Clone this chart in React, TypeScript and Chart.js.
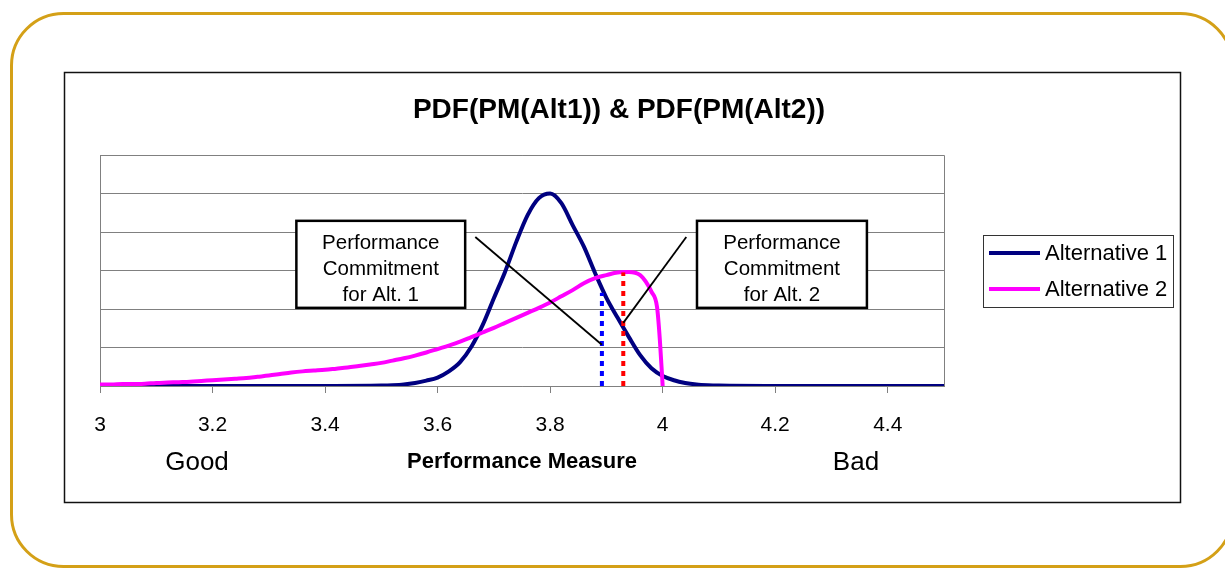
import React, { useEffect, useRef } from "react";
import { Chart, registerables } from "chart.js";

Chart.register(...registerables);

const FONT = '"Liberation Sans", Arial, sans-serif';

const chartTitle = "PDF(PM(Alt1)) & PDF(PM(Alt2))";
const xAxisTitle = "Performance Measure";
const goodLabel = "Good";
const badLabel = "Bad";
const seriesNames = ["Alternative 1", "Alternative 2"];
const calloutTexts = [
  ["Performance", "Commitment", "for Alt. 1"],
  ["Performance", "Commitment", "for Alt. 2"],
];

const xTicks = [3, 3.2, 3.4, 3.6, 3.8, 4, 4.2, 4.4];
const xTickLabels = ["3", "3.2", "3.4", "3.6", "3.8", "4", "4.2", "4.4"];

const alt1X = [
  3.0, 3.1, 3.2, 3.3, 3.4, 3.5, 3.52, 3.54, 3.56, 3.58, 3.6, 3.62, 3.64, 3.66,
  3.68, 3.7, 3.72, 3.74, 3.76, 3.78, 3.8, 3.82, 3.84, 3.86, 3.88, 3.9, 3.92,
  3.94, 3.96, 3.98, 4.0, 4.02, 4.04, 4.06, 4.08, 4.1, 4.2, 4.3, 4.4, 4.5,
];
const alt1Y = [
  0, 0, 0, 0, 0, 0.01, 0.02, 0.04, 0.08, 0.14, 0.22, 0.38, 0.62, 1.02, 1.58,
  2.28, 2.97, 3.75, 4.44, 4.88, 5.0, 4.75, 4.18, 3.62, 2.93, 2.29, 1.77, 1.27,
  0.8, 0.46, 0.26, 0.15, 0.08, 0.04, 0.02, 0.01, 0, 0, 0, 0,
];

const alt2X = [
  3.0, 3.02, 3.04, 3.06, 3.08, 3.1, 3.12, 3.14, 3.16, 3.18, 3.2, 3.22, 3.24,
  3.26, 3.28, 3.3, 3.32, 3.34, 3.36, 3.38, 3.4, 3.42, 3.44, 3.46, 3.48, 3.5,
  3.52, 3.54, 3.56, 3.58, 3.6, 3.62, 3.64, 3.66, 3.68, 3.7, 3.72, 3.74, 3.76,
  3.78, 3.8, 3.82, 3.84, 3.86, 3.88, 3.9, 3.92, 3.94, 3.96, 3.97, 3.98, 3.99,
  3.995, 4.0,
];
const alt2Y = [
  0.04, 0.04, 0.05, 0.05, 0.06, 0.08, 0.09, 0.1, 0.11, 0.13, 0.15, 0.17, 0.19,
  0.21, 0.24, 0.27, 0.31, 0.35, 0.38, 0.4, 0.42, 0.45, 0.48, 0.52, 0.56, 0.6,
  0.66, 0.72, 0.79, 0.87, 0.96, 1.05, 1.15, 1.27, 1.39, 1.51, 1.64, 1.77, 1.9,
  2.03, 2.17, 2.33, 2.49, 2.67, 2.8, 2.88, 2.95, 2.96, 2.88, 2.71, 2.45, 2.05,
  1.2, 0,
];

// Performance commitment markers (x value, top y value)
const commit1 = [3.892, 2.42];
const commit2 = [3.93, 2.95];

// Callout annotation geometry in data units: [xLeft, xRight, yTop, yBottom]
const callout1Box = [3.349, 3.649, 4.29, 2.03];
const callout2Box = [4.061, 4.363, 4.29, 2.03];
// connectors: [x1, y1, x2, y2]
const connector1 = [3.667, 3.87, 3.892, 1.07];
const connector2 = [4.042, 3.87, 3.93, 1.64];

const NAVY = "#000080";
const MAGENTA = "#ff00ff";
const GOLD = "#d4a017";
const GRID = "#808080";

function roundRectPath(ctx, x, y, w, h, r) {
  ctx.beginPath();
  ctx.moveTo(x + r, y);
  ctx.lineTo(x + w - r, y);
  ctx.arcTo(x + w, y, x + w, y + r, r);
  ctx.lineTo(x + w, y + h - r);
  ctx.arcTo(x + w, y + h, x + w - r, y + h, r);
  ctx.lineTo(x + r, y + h);
  ctx.arcTo(x, y + h, x, y + h - r, r);
  ctx.lineTo(x, y + r);
  ctx.arcTo(x, y, x + r, y, r);
  ctx.closePath();
}

const decorPlugin = {
  id: "decor",
  beforeDraw(chart) {
    const ctx = chart.ctx;
    ctx.save();
    ctx.fillStyle = "#ffffff";
    ctx.fillRect(0, 0, chart.width, chart.height);
    // slide frame
    ctx.strokeStyle = GOLD;
    ctx.lineWidth = 3;
    roundRectPath(ctx, 11.5, 13.5, 1221, 553, 52);
    ctx.stroke();
    // chart box
    ctx.strokeStyle = "#111";
    ctx.lineWidth = 1.5;
    ctx.strokeRect(64.5, 72.5, 1116, 430);
    // title
    ctx.fillStyle = "#000";
    ctx.textAlign = "center";
    ctx.textBaseline = "middle";
    ctx.font = `bold 28px ${FONT}`;
    ctx.fillText(chartTitle, 619, 110);
    // Good / Bad
    ctx.font = `26px ${FONT}`;
    ctx.fillText(goodLabel, 197, 463);
    ctx.fillText(badLabel, 856, 463);
    // legend
    ctx.strokeStyle = "#333";
    ctx.lineWidth = 1;
    ctx.strokeRect(983.5, 235.5, 190, 72);
    const colors = [NAVY, MAGENTA];
    const ys = [254, 290];
    ctx.textAlign = "left";
    ctx.font = `22px ${FONT}`;
    for (let i = 0; i < 2; i++) {
      ctx.strokeStyle = colors[i];
      ctx.lineWidth = 4;
      ctx.beginPath();
      ctx.moveTo(989, ys[i] - 1);
      ctx.lineTo(1040, ys[i] - 1);
      ctx.stroke();
      ctx.fillStyle = "#000";
      ctx.fillText(seriesNames[i], 1045, ys[i]);
    }
    ctx.restore();
  },
  beforeDatasetsDraw(chart) {
    const ctx = chart.ctx;
    const a = chart.chartArea;
    ctx.save();
    ctx.strokeStyle = GRID;
    ctx.lineWidth = 1;
    ctx.beginPath();
    ctx.moveTo(a.left, a.top + 0.5);
    ctx.lineTo(a.right + 0.5, a.top + 0.5);
    ctx.lineTo(a.right + 0.5, a.bottom);
    ctx.stroke();
    ctx.restore();
  },
  afterDatasetsDraw(chart) {
    const ctx = chart.ctx;
    const xs = chart.scales.x;
    const ys = chart.scales.y;
    ctx.save();
    // connectors
    ctx.strokeStyle = "#000";
    ctx.lineWidth = 1.8;
    for (const c of [connector1, connector2]) {
      ctx.beginPath();
      ctx.moveTo(xs.getPixelForValue(c[0]), ys.getPixelForValue(c[1]));
      ctx.lineTo(xs.getPixelForValue(c[2]), ys.getPixelForValue(c[3]));
      ctx.stroke();
    }
    // callout boxes
    const boxes = [callout1Box, callout2Box];
    for (let i = 0; i < 2; i++) {
      const b = boxes[i];
      const l = xs.getPixelForValue(b[0]);
      const r = xs.getPixelForValue(b[1]);
      const t = ys.getPixelForValue(b[2]);
      const btm = ys.getPixelForValue(b[3]);
      ctx.fillStyle = "#fff";
      ctx.fillRect(l, t, r - l, btm - t);
      ctx.strokeStyle = "#000";
      ctx.lineWidth = 2.5;
      ctx.strokeRect(l, t, r - l, btm - t);
      ctx.fillStyle = "#000";
      ctx.font = `20.5px ${FONT}`;
      ctx.textAlign = "center";
      ctx.textBaseline = "middle";
      const cx = (l + r) / 2;
      const lines = calloutTexts[i];
      for (let k = 0; k < lines.length; k++) {
        ctx.fillText(lines[k], cx, t + 23 + k * 26);
      }
    }
    ctx.restore();
  },
};

export default function App() {
  const ref = useRef(null);
  useEffect(() => {
    const canvas = ref.current;
    if (!canvas) return;
    const toPts = (xsArr, ysArr) => xsArr.map((x, i) => ({ x, y: ysArr[i] }));
    const chart = new Chart(canvas, {
      type: "line",
      data: {
        datasets: [
          {
            label: "Commitment Alt. 1",
            data: [
              { x: commit1[0], y: 0 },
              { x: commit1[0], y: commit1[1] },
            ],
            borderColor: "#0000ff",
            borderWidth: 4,
            borderDash: [5, 5],
            pointRadius: 0,
          },
          {
            label: "Commitment Alt. 2",
            data: [
              { x: commit2[0], y: 0 },
              { x: commit2[0], y: commit2[1] },
            ],
            borderColor: "#ff0000",
            borderWidth: 4,
            borderDash: [5, 5],
            pointRadius: 0,
          },
          {
            label: seriesNames[1],
            data: toPts(alt2X, alt2Y),
            borderColor: MAGENTA,
            backgroundColor: MAGENTA,
            borderWidth: 4,
            pointRadius: 0,
            cubicInterpolationMode: "monotone",
          },
          {
            label: seriesNames[0],
            data: toPts(alt1X, alt1Y),
            borderColor: NAVY,
            backgroundColor: NAVY,
            borderWidth: 4,
            pointRadius: 0,
            cubicInterpolationMode: "monotone",
          },
        ],
      },
      options: {
        responsive: false,
        animation: false,
        events: [],
        layout: { padding: { left: 100, right: 281, top: 155, bottom: 82 } },
        plugins: {
          legend: { display: false },
          title: { display: false },
          tooltip: { enabled: false },
        },
        scales: {
          x: {
            type: "linear",
            min: 3,
            max: 4.5,
            afterBuildTicks(s) {
              s.ticks = xTicks.map((v) => ({ value: v }));
            },
            afterFit(s) {
              s.height = 100;
            },
            ticks: {
              callback: (v, i) => xTickLabels[i],
              color: "#000",
              font: { size: 21, family: FONT },
              padding: 20,
              maxRotation: 0,
              autoSkip: false,
            },
            grid: {
              drawOnChartArea: false,
              drawTicks: true,
              tickLength: 7,
              color: GRID,
            },
            border: { color: GRID, width: 1 },
            title: {
              display: true,
              text: xAxisTitle,
              color: "#000",
              font: { size: 22, weight: "bold", family: FONT },
              padding: { top: 0, bottom: 11 },
            },
          },
          y: {
            min: 0,
            max: 6,
            afterFit(s) {
              s.width = 0;
            },
            ticks: { display: false, stepSize: 1 },
            grid: { color: GRID, lineWidth: 1, drawTicks: false },
            border: { color: GRID, width: 1 },
          },
        },
      },
      plugins: [decorPlugin],
    });
    return () => chart.destroy();
  }, []);
  return (
    <div style={{ position: "absolute", left: 0, top: 0, width: 1225, height: 568 }}>
      <canvas ref={ref} width={1225} height={568} style={{ display: "block" }} />
    </div>
  );
}
